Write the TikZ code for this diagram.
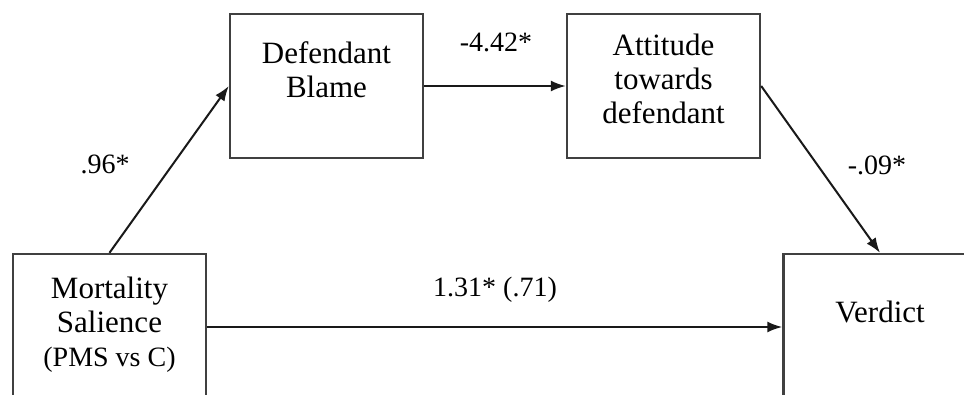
\documentclass[tikz,border=0pt]{standalone}
\usepackage{fontspec}
\setmainfont{Liberation Serif}
\usetikzlibrary{arrows.meta}
\begin{document}
\begin{tikzpicture}[x=1pt,y=-1pt,
  boxnode/.style={draw=black!75,line width=2.4pt,fill=white,minimum width=193pt,inner sep=0pt},
  boxtext/.style={inner sep=0pt,align=center,font=\fontsize{31}{34}\selectfont},
  lbl/.style={inner sep=0pt,font=\fontsize{28}{30}\selectfont},
  conn/.style={draw=black!90,line width=2pt,-{Latex[length=15pt,width=11pt]}}]
\useasboundingbox (0,0) rectangle (964,394);
\clip (0,0) rectangle (964,394);
\fill[white] (0,0) rectangle (964,394);
% boxes
\node[boxnode,minimum height=144pt] (def) at (326.5,86) {};
\node[boxnode,minimum height=144pt] (att) at (663.5,86) {};
\node[boxnode,minimum height=146pt] (mort) at (109.5,327) {};
\node[boxnode,minimum height=146pt] (ver) at (880,327) {};
% box texts
\node[boxtext] (deft) at (326.5,70) {Defendant\\Blame};
\node[boxtext] (attt) at (663.5,78.5) {Attitude\\towards\\defendant};
\node[boxtext] (mortt) at (109.5,325) {Mortality\\Salience\\{\fontsize{28}{30}\selectfont(PMS vs C)}};
\node[boxtext] (vert) at (880,312) {Verdict};
% connectors
\draw[conn] (mort.north) -- (def.west);
\draw[conn] (def.east) -- (att.west);
\draw[conn] (att.east) -- (ver.north);
\draw[conn] (mort.east) -- (ver.west);
% labels
\node[lbl] (l1) at (496,42) {-4.42*};
\node[lbl] (l2) at (105,164) {.96*};
\node[lbl] (l3) at (877,165) {-.09*};
\node[lbl] (l4) at (495,290) {1.31* (.71)};
\end{tikzpicture}
\end{document}
